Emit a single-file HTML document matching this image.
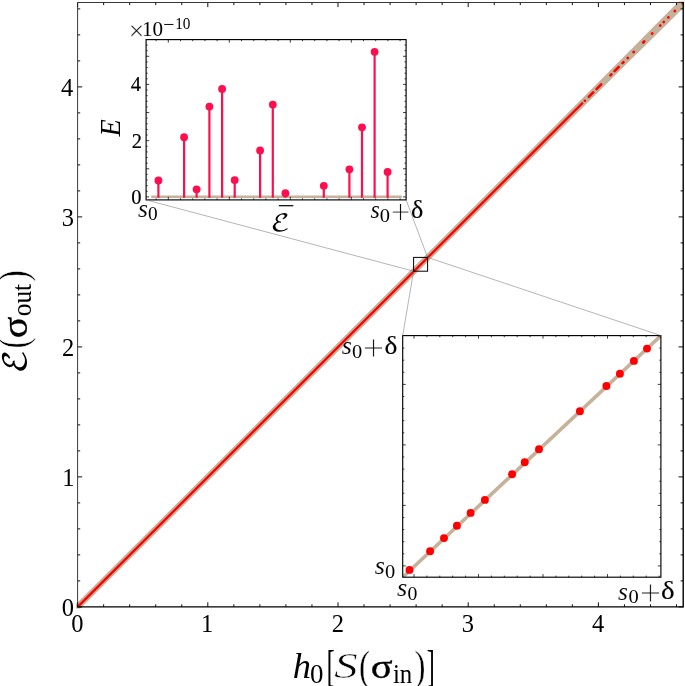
<!DOCTYPE html>
<html lang="en"><head><meta charset="utf-8"><title>plot</title>
<style>html,body{margin:0;padding:0;background:#fff}svg{display:block}text{font-family:"Liberation Serif","DejaVu Serif",serif;fill:#000}.it{font-style:italic}.cal{font-family:"DejaVu Math TeX Gyre","DejaVu Sans","Liberation Serif",serif;font-style:normal}</style></head><body>
<svg width="685" height="686" viewBox="0 0 685 686">
<rect width="685" height="686" fill="#fff"/>
<defs><clipPath id="cm"><rect x="76.1" y="1.5" width="608.1" height="606.9"/></clipPath></defs>
<g clip-path="url(#cm)">
<polygon points="69.4,610.7 497.8,183.1 627.5,53.1 647.3,32.9 686.4,-6.3 692.0,-0.6 652.7,38.3 632.5,58.0 502.2,187.5 73.8,615.1" fill="#C6B29A"/>
<line x1="78.19999999999999" y1="606.4" x2="582.3" y2="103.3" stroke="#FF0000" stroke-width="2.3" stroke-linecap="round"/>
<line x1="584.9" y1="100.7" x2="584.9" y2="100.7" stroke="#FF0000" stroke-width="2.6" stroke-linecap="round"/>
<line x1="588.8" y1="96.8" x2="593.2" y2="92.4" stroke="#FF0000" stroke-width="2.6" stroke-linecap="round"/>
<line x1="596.5" y1="89.1" x2="601.2" y2="84.4" stroke="#FF0000" stroke-width="2.6" stroke-linecap="round"/>
<line x1="610.4" y1="75.3" x2="611.4" y2="74.3" stroke="#FF0000" stroke-width="2.6" stroke-linecap="round"/>
<line x1="614.5" y1="71.2" x2="618.7" y2="67.0" stroke="#FF0000" stroke-width="2.6" stroke-linecap="round"/>
<line x1="622.5" y1="63.2" x2="623.5" y2="62.2" stroke="#FF0000" stroke-width="2.6" stroke-linecap="round"/>
<line x1="627.7" y1="58.0" x2="627.9" y2="57.8" stroke="#FF0000" stroke-width="2.6" stroke-linecap="round"/>
<line x1="633.5" y1="52.2" x2="633.9" y2="51.8" stroke="#FF0000" stroke-width="2.6" stroke-linecap="round"/>
<line x1="643.2" y1="42.5" x2="644.3" y2="41.4" stroke="#FF0000" stroke-width="2.6" stroke-linecap="round"/>
<line x1="652.0" y1="33.7" x2="652.3" y2="33.4" stroke="#FF0000" stroke-width="2.6" stroke-linecap="round"/>
<line x1="660.2" y1="25.6" x2="660.3" y2="25.5" stroke="#FF0000" stroke-width="2.6" stroke-linecap="round"/>
<line x1="663.7" y1="22.1" x2="663.8" y2="22.0" stroke="#FF0000" stroke-width="2.6" stroke-linecap="round"/>
<line x1="668.4" y1="17.4" x2="668.4" y2="17.4" stroke="#FF0000" stroke-width="2.6" stroke-linecap="round"/>
<line x1="674.7" y1="11.1" x2="674.9" y2="10.9" stroke="#FF0000" stroke-width="2.6" stroke-linecap="round"/>
<line x1="682.5" y1="3.3" x2="682.7" y2="3.1" stroke="#FF0000" stroke-width="2.6" stroke-linecap="round"/>
</g>
<path d="M77.60 606.9v-4.6M77.60 2.5v4.6M77.6 606.90h4.6M683.2 606.90h-4.6M103.64 606.9v-2.6M103.64 2.5v2.6M77.6 580.90h2.6M683.2 580.90h-2.6M129.68 606.9v-2.6M129.68 2.5v2.6M77.6 554.90h2.6M683.2 554.90h-2.6M155.72 606.9v-2.6M155.72 2.5v2.6M77.6 528.90h2.6M683.2 528.90h-2.6M181.76 606.9v-2.6M181.76 2.5v2.6M77.6 502.90h2.6M683.2 502.90h-2.6M207.80 606.9v-4.6M207.80 2.5v4.6M77.6 476.90h4.6M683.2 476.90h-4.6M233.84 606.9v-2.6M233.84 2.5v2.6M77.6 450.90h2.6M683.2 450.90h-2.6M259.88 606.9v-2.6M259.88 2.5v2.6M77.6 424.90h2.6M683.2 424.90h-2.6M285.92 606.9v-2.6M285.92 2.5v2.6M77.6 398.90h2.6M683.2 398.90h-2.6M311.96 606.9v-2.6M311.96 2.5v2.6M77.6 372.90h2.6M683.2 372.90h-2.6M338.00 606.9v-4.6M338.00 2.5v4.6M77.6 346.90h4.6M683.2 346.90h-4.6M364.04 606.9v-2.6M364.04 2.5v2.6M77.6 320.90h2.6M683.2 320.90h-2.6M390.08 606.9v-2.6M390.08 2.5v2.6M77.6 294.90h2.6M683.2 294.90h-2.6M416.12 606.9v-2.6M416.12 2.5v2.6M77.6 268.90h2.6M683.2 268.90h-2.6M442.16 606.9v-2.6M442.16 2.5v2.6M77.6 242.90h2.6M683.2 242.90h-2.6M468.20 606.9v-4.6M468.20 2.5v4.6M77.6 216.90h4.6M683.2 216.90h-4.6M494.24 606.9v-2.6M494.24 2.5v2.6M77.6 190.90h2.6M683.2 190.90h-2.6M520.28 606.9v-2.6M520.28 2.5v2.6M77.6 164.90h2.6M683.2 164.90h-2.6M546.32 606.9v-2.6M546.32 2.5v2.6M77.6 138.90h2.6M683.2 138.90h-2.6M572.36 606.9v-2.6M572.36 2.5v2.6M77.6 112.90h2.6M683.2 112.90h-2.6M598.40 606.9v-4.6M598.40 2.5v4.6M77.6 86.90h4.6M683.2 86.90h-4.6M624.44 606.9v-2.6M624.44 2.5v2.6M77.6 60.90h2.6M683.2 60.90h-2.6M650.48 606.9v-2.6M650.48 2.5v2.6M77.6 34.90h2.6M683.2 34.90h-2.6M676.52 606.9v-2.6M676.52 2.5v2.6M77.6 8.90h2.6M683.2 8.90h-2.6" fill="none" stroke="#000" stroke-width="0.95"/>
<path d="M77.6 606.9V2.5H683.2" fill="none" stroke="#222" stroke-width="0.9"/>
<path d="M77.19999999999999 606.9H683.2V2.1" fill="none" stroke="#000" stroke-width="1.4"/>
<text transform="translate(71.17 632.00) scale(1.000 1)" font-size="24.50">0</text>
<text transform="translate(61.73 615.80) scale(1.000 1)" font-size="24.50">0</text>
<text transform="translate(201.01 632.00) scale(1.000 1)" font-size="24.50">1</text>
<text transform="translate(62.22 485.80) scale(1.000 1)" font-size="24.50">1</text>
<text transform="translate(331.70 632.00) scale(1.000 1)" font-size="24.50">2</text>
<text transform="translate(62.10 355.80) scale(1.000 1)" font-size="24.50">2</text>
<text transform="translate(461.65 632.00) scale(1.000 1)" font-size="24.50">3</text>
<text transform="translate(61.73 225.80) scale(1.000 1)" font-size="24.50">3</text>
<text transform="translate(591.91 632.00) scale(1.000 1)" font-size="24.50">4</text>
<text transform="translate(61.12 95.80) scale(1.000 1)" font-size="24.50">4</text>
<rect x="146.1" y="39.6" width="260.0" height="160.3" fill="#fff"/>
<line x1="151.2" y1="196.7" x2="401.8" y2="196.7" stroke="#C6B29A" stroke-width="2.6"/>
<line x1="158.4" y1="197.8" x2="158.4" y2="180.5" stroke="#FF0D4D" stroke-width="2.2"/>
<circle cx="158.4" cy="180.5" r="3.9" fill="#FF0D4D"/>
<line x1="184.1" y1="197.8" x2="184.1" y2="137.2" stroke="#FF0D4D" stroke-width="2.2"/>
<circle cx="184.1" cy="137.2" r="3.9" fill="#FF0D4D"/>
<line x1="196.6" y1="197.8" x2="196.6" y2="189.3" stroke="#FF0D4D" stroke-width="2.2"/>
<circle cx="196.6" cy="189.3" r="3.9" fill="#FF0D4D"/>
<line x1="209.4" y1="197.8" x2="209.4" y2="106.6" stroke="#FF0D4D" stroke-width="2.2"/>
<circle cx="209.4" cy="106.6" r="3.9" fill="#FF0D4D"/>
<line x1="222.1" y1="197.8" x2="222.1" y2="88.9" stroke="#FF0D4D" stroke-width="2.2"/>
<circle cx="222.1" cy="88.9" r="3.9" fill="#FF0D4D"/>
<line x1="234.7" y1="197.8" x2="234.7" y2="180.1" stroke="#FF0D4D" stroke-width="2.2"/>
<circle cx="234.7" cy="180.1" r="3.9" fill="#FF0D4D"/>
<line x1="260.1" y1="197.8" x2="260.1" y2="150.4" stroke="#FF0D4D" stroke-width="2.2"/>
<circle cx="260.1" cy="150.4" r="3.9" fill="#FF0D4D"/>
<line x1="272.8" y1="197.8" x2="272.8" y2="104.6" stroke="#FF0D4D" stroke-width="2.2"/>
<circle cx="272.8" cy="104.6" r="3.9" fill="#FF0D4D"/>
<line x1="285.4" y1="197.8" x2="285.4" y2="193.2" stroke="#FF0D4D" stroke-width="2.2"/>
<circle cx="285.4" cy="193.2" r="3.9" fill="#FF0D4D"/>
<line x1="323.8" y1="197.8" x2="323.8" y2="185.8" stroke="#FF0D4D" stroke-width="2.2"/>
<circle cx="323.8" cy="185.8" r="3.9" fill="#FF0D4D"/>
<line x1="349.4" y1="197.8" x2="349.4" y2="169.3" stroke="#FF0D4D" stroke-width="2.2"/>
<circle cx="349.4" cy="169.3" r="3.9" fill="#FF0D4D"/>
<line x1="362.0" y1="197.8" x2="362.0" y2="127.3" stroke="#FF0D4D" stroke-width="2.2"/>
<circle cx="362.0" cy="127.3" r="3.9" fill="#FF0D4D"/>
<line x1="374.6" y1="197.8" x2="374.6" y2="51.8" stroke="#FF0D4D" stroke-width="2.2"/>
<circle cx="374.6" cy="51.8" r="3.9" fill="#FF0D4D"/>
<line x1="387.6" y1="197.8" x2="387.6" y2="171.9" stroke="#FF0D4D" stroke-width="2.2"/>
<circle cx="387.6" cy="171.9" r="3.9" fill="#FF0D4D"/>
<path d="M146.1 196.90h3.1M406.1 196.90h-3.1M146.1 191.28h1.6M406.1 191.28h-1.6M146.1 185.65h1.6M406.1 185.65h-1.6M146.1 180.03h1.6M406.1 180.03h-1.6M146.1 174.40h1.6M406.1 174.40h-1.6M146.1 168.78h3.1M406.1 168.78h-3.1M146.1 163.16h1.6M406.1 163.16h-1.6M146.1 157.53h1.6M406.1 157.53h-1.6M146.1 151.91h1.6M406.1 151.91h-1.6M146.1 146.28h1.6M406.1 146.28h-1.6M146.1 140.66h3.1M406.1 140.66h-3.1M146.1 135.04h1.6M406.1 135.04h-1.6M146.1 129.41h1.6M406.1 129.41h-1.6M146.1 123.79h1.6M406.1 123.79h-1.6M146.1 118.16h1.6M406.1 118.16h-1.6M146.1 112.54h3.1M406.1 112.54h-3.1M146.1 106.92h1.6M406.1 106.92h-1.6M146.1 101.29h1.6M406.1 101.29h-1.6M146.1 95.67h1.6M406.1 95.67h-1.6M146.1 90.04h1.6M406.1 90.04h-1.6M146.1 84.42h3.1M406.1 84.42h-3.1M146.1 78.80h1.6M406.1 78.80h-1.6M146.1 73.17h1.6M406.1 73.17h-1.6M146.1 67.55h1.6M406.1 67.55h-1.6M146.1 61.92h1.6M406.1 61.92h-1.6M146.1 56.30h3.1M406.1 56.30h-3.1M146.1 50.68h1.6M406.1 50.68h-1.6M146.1 45.05h1.6M406.1 45.05h-1.6M156.10 199.9v-1.6M156.10 39.6v1.6M168.30 199.9v-3.1M168.30 39.6v3.1M180.50 199.9v-1.6M180.50 39.6v1.6M192.70 199.9v-1.6M192.70 39.6v1.6M204.90 199.9v-1.6M204.90 39.6v1.6M217.10 199.9v-1.6M217.10 39.6v1.6M229.30 199.9v-3.1M229.30 39.6v3.1M241.50 199.9v-1.6M241.50 39.6v1.6M253.70 199.9v-1.6M253.70 39.6v1.6M265.90 199.9v-1.6M265.90 39.6v1.6M278.10 199.9v-1.6M278.10 39.6v1.6M290.30 199.9v-3.1M290.30 39.6v3.1M302.50 199.9v-1.6M302.50 39.6v1.6M314.70 199.9v-1.6M314.70 39.6v1.6M326.90 199.9v-1.6M326.90 39.6v1.6M339.10 199.9v-1.6M339.10 39.6v1.6M351.30 199.9v-3.1M351.30 39.6v3.1M363.50 199.9v-1.6M363.50 39.6v1.6M375.70 199.9v-1.6M375.70 39.6v1.6M387.90 199.9v-1.6M387.90 39.6v1.6M400.10 199.9v-1.6M400.10 39.6v1.6" fill="none" stroke="#111" stroke-width="0.8"/>
<rect x="146.1" y="39.6" width="260.0" height="160.3" fill="none" stroke="#000" stroke-width="1.15"/>
<text transform="translate(131.37 204.10) scale(1.000 1)" font-size="20.50" stroke="#000" stroke-width="0.2">0</text>
<text transform="translate(131.68 148.00) scale(1.000 1)" font-size="20.50" stroke="#000" stroke-width="0.2">2</text>
<text transform="translate(130.86 90.50) scale(1.000 1)" font-size="20.50" stroke="#000" stroke-width="0.2">4</text>
<text transform="translate(128.76 40.05) scale(1.018 1)" font-size="26.91" stroke="#fff" stroke-width="0.3">×</text>
<text transform="translate(142.00 36.39) scale(0.985 1)" font-size="21.48">10</text>
<text transform="translate(163.31 30.84) scale(0.999 1)" font-size="19.80">−</text>
<text transform="translate(175.22 28.74) scale(0.964 1)" font-size="15.85">10</text>
<text class="it" transform="translate(120.30 136.52) rotate(-90) scale(0.990 1)" font-size="28.55">E</text>
<text class="it" transform="translate(138.12 216.85) scale(1.029 1)" font-size="24.79" stroke="#fff" stroke-width="0.1">s</text>
<text transform="translate(147.93 220.11) scale(1.025 1)" font-size="18.81">0</text>
<text class="it" transform="translate(370.44 217.85) scale(0.947 1)" font-size="25.42" stroke="#fff" stroke-width="0.1">s</text>
<text transform="translate(379.78 221.60) scale(1.047 1)" font-size="19.56">0</text>
<text transform="translate(390.42 224.05) scale(0.977 1)" font-size="36.52" stroke="#fff" stroke-width="0.8">+</text>
<text transform="translate(410.91 217.60) scale(1.033 1)" font-size="25.25" stroke="#000" stroke-width="0.15">δ</text>
<text class="cal" transform="translate(270.42 231.38) scale(1.212 1)" font-size="23.50">ℰ</text>
<line x1="278.8" y1="205.7" x2="293.3" y2="205.7" stroke="#000" stroke-width="1.2"/>
<rect x="402.7" y="335.6" width="258.2" height="241.6" fill="#fff"/>
<defs><clipPath id="cl"><rect x="402.7" y="335.6" width="258.2" height="241.6"/></clipPath></defs>
<line x1="400.7" y1="579.07" x2="662.9" y2="333.73" stroke="#C6B29A" stroke-width="3.6" clip-path="url(#cl)"/>
<circle cx="409.5" cy="569.9" r="3.95" fill="#FF0000"/>
<circle cx="430.1" cy="551.3" r="3.95" fill="#FF0000"/>
<circle cx="444.0" cy="538.1" r="3.95" fill="#FF0000"/>
<circle cx="456.9" cy="525.8" r="3.95" fill="#FF0000"/>
<circle cx="470.6" cy="512.9" r="3.95" fill="#FF0000"/>
<circle cx="484.9" cy="499.9" r="3.95" fill="#FF0000"/>
<circle cx="512.1" cy="474.2" r="3.95" fill="#FF0000"/>
<circle cx="524.7" cy="462.2" r="3.95" fill="#FF0000"/>
<circle cx="539.0" cy="449.3" r="3.95" fill="#FF0000"/>
<circle cx="579.9" cy="411.3" r="3.95" fill="#FF0000"/>
<circle cx="606.4" cy="386.0" r="3.95" fill="#FF0000"/>
<circle cx="619.9" cy="373.7" r="3.95" fill="#FF0000"/>
<circle cx="633.9" cy="360.9" r="3.95" fill="#FF0000"/>
<circle cx="647.0" cy="348.6" r="3.95" fill="#FF0000"/>
<path d="M414.00 577.2v-3.1M414.00 335.6v3.1M426.90 577.2v-1.6M426.90 335.6v1.6M439.80 577.2v-1.6M439.80 335.6v1.6M452.70 577.2v-1.6M452.70 335.6v1.6M465.60 577.2v-1.6M465.60 335.6v1.6M478.50 577.2v-3.1M478.50 335.6v3.1M491.40 577.2v-1.6M491.40 335.6v1.6M504.30 577.2v-1.6M504.30 335.6v1.6M517.20 577.2v-1.6M517.20 335.6v1.6M530.10 577.2v-1.6M530.10 335.6v1.6M543.00 577.2v-3.1M543.00 335.6v3.1M555.90 577.2v-1.6M555.90 335.6v1.6M568.80 577.2v-1.6M568.80 335.6v1.6M581.70 577.2v-1.6M581.70 335.6v1.6M594.60 577.2v-1.6M594.60 335.6v1.6M607.50 577.2v-3.1M607.50 335.6v3.1M620.40 577.2v-1.6M620.40 335.6v1.6M633.30 577.2v-1.6M633.30 335.6v1.6M646.20 577.2v-1.6M646.20 335.6v1.6M659.10 577.2v-1.6M659.10 335.6v1.6M402.7 348.10h1.6M660.9 348.10h-1.6M402.7 360.20h1.6M660.9 360.20h-1.6M402.7 372.30h1.6M660.9 372.30h-1.6M402.7 384.40h3.1M660.9 384.40h-3.1M402.7 396.50h1.6M660.9 396.50h-1.6M402.7 408.60h1.6M660.9 408.60h-1.6M402.7 420.70h1.6M660.9 420.70h-1.6M402.7 432.80h1.6M660.9 432.80h-1.6M402.7 444.90h3.1M660.9 444.90h-3.1M402.7 457.00h1.6M660.9 457.00h-1.6M402.7 469.10h1.6M660.9 469.10h-1.6M402.7 481.20h1.6M660.9 481.20h-1.6M402.7 493.30h1.6M660.9 493.30h-1.6M402.7 505.40h3.1M660.9 505.40h-3.1M402.7 517.50h1.6M660.9 517.50h-1.6M402.7 529.60h1.6M660.9 529.60h-1.6M402.7 541.70h1.6M660.9 541.70h-1.6M402.7 553.80h1.6M660.9 553.80h-1.6M402.7 565.90h3.1M660.9 565.90h-3.1" fill="none" stroke="#111" stroke-width="0.8"/>
<rect x="402.7" y="335.6" width="258.2" height="241.6" fill="none" stroke="#000" stroke-width="1.15"/>
<text class="it" transform="translate(374.81 574.15) scale(1.043 1)" font-size="25.00" stroke="#fff" stroke-width="0.1">s</text>
<text transform="translate(384.88 577.81) scale(1.063 1)" font-size="19.26">0</text>
<text class="it" transform="translate(397.00 595.75) scale(1.055 1)" font-size="25.00" stroke="#fff" stroke-width="0.1">s</text>
<text transform="translate(407.41 599.61) scale(1.026 1)" font-size="19.26">0</text>
<text class="it" transform="translate(341.71 354.35) scale(1.043 1)" font-size="25.00" stroke="#fff" stroke-width="0.1">s</text>
<text transform="translate(352.08 358.20) scale(1.047 1)" font-size="19.56">0</text>
<text transform="translate(362.78 360.84) scale(1.030 1)" font-size="37.39" stroke="#fff" stroke-width="0.8">+</text>
<text transform="translate(384.46 354.09) scale(1.059 1)" font-size="25.82" stroke="#000" stroke-width="0.15">δ</text>
<text class="it" transform="translate(618.02 599.65) scale(1.004 1)" font-size="25.42" stroke="#fff" stroke-width="0.1">s</text>
<text transform="translate(628.38 603.20) scale(1.047 1)" font-size="19.56">0</text>
<text transform="translate(639.38 605.96) scale(1.024 1)" font-size="37.61" stroke="#fff" stroke-width="0.8">+</text>
<text transform="translate(660.90 599.39) scale(1.100 1)" font-size="26.24" stroke="#000" stroke-width="0.15">δ</text>
<line x1="146.1" y1="199.9" x2="413.6" y2="271.2" stroke="#777" stroke-width="0.55"/>
<line x1="406.1" y1="199.9" x2="427.6" y2="257.4" stroke="#777" stroke-width="0.55"/>
<line x1="402.7" y1="335.6" x2="413.6" y2="271.2" stroke="#777" stroke-width="0.55"/>
<line x1="660.9" y1="335.6" x2="427.6" y2="257.4" stroke="#777" stroke-width="0.55"/>
<rect x="413.6" y="257.4" width="14.0" height="13.8" fill="none" stroke="#000" stroke-width="1"/>
<text class="it" transform="translate(292.82 677.78) scale(0.999 1)" font-size="36.50">h</text>
<text transform="translate(309.92 683.13) scale(0.982 1)" font-size="27.41">0</text>
<text transform="translate(326.83 680.53) scale(0.534 1)" font-size="44.24" stroke="#000" stroke-width="0.2">[</text>
<text class="it" transform="translate(333.92 677.93) scale(1.296 1)" font-size="36.72" stroke="#fff" stroke-width="0.6">S</text>
<text transform="translate(359.12 680.02) scale(0.797 1)" font-size="41.33" stroke="#fff" stroke-width="0.4">(</text>
<text transform="translate(370.68 677.67) scale(1.228 1)" font-size="33.08" stroke="#000" stroke-width="0.35">σ</text>
<text transform="translate(392.90 683.00) scale(0.907 1)" font-size="27.42">in</text>
<text transform="translate(414.51 680.02) scale(0.800 1)" font-size="41.33" stroke="#fff" stroke-width="0.4">)</text>
<text transform="translate(426.76 680.53) scale(0.542 1)" font-size="44.24" stroke="#000" stroke-width="0.2">]</text>
<text class="cal" transform="translate(26.39 373.82) rotate(-90) scale(1.116 1)" font-size="31.62">ℰ</text>
<text transform="translate(26.68 348.50) rotate(-90) scale(0.794 1)" font-size="42.00" stroke="#fff" stroke-width="0.6">(</text>
<text transform="translate(27.04 338.30) rotate(-90) scale(1.124 1)" font-size="35.58" stroke="#000" stroke-width="0.35">σ</text>
<text transform="translate(31.43 316.32) rotate(-90) scale(0.936 1)" font-size="27.19">out</text>
<text transform="translate(26.68 281.98) rotate(-90) scale(0.861 1)" font-size="42.00" stroke="#fff" stroke-width="0.6">)</text>
</svg></body></html>
